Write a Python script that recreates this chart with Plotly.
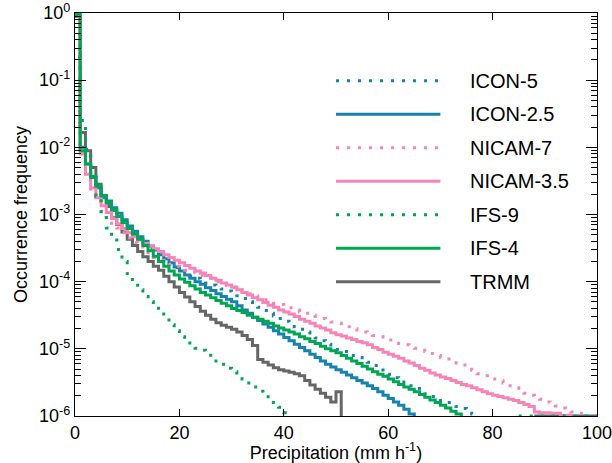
import plotly.graph_objects as go

# Precipitation bins: left edges, 1 mm/h wide
bin_width = 1

# Occurrence frequency, stored as log10 values
# (None = no data drawn; -7 = drops below the plotted range)
icon5_log10 = [
    -0.05, -2.0, -2.28, -2.48, -2.63, -2.75, -2.84, -2.94, -3.03, -3.12,
    -3.21, -3.29, -3.37, -3.44, -3.51, -3.57, -3.63, -3.69, -3.74, -3.79,
    -3.84, -3.88, -3.92, -3.95, -3.98, -4.02, -4.05, -4.08, -4.11, -4.14,
    -4.17, -4.21, -4.25, -4.3, -4.34, -4.38, -4.43, -4.47, -4.51, -4.55,
    -4.59, -4.63, -4.67, -4.71, -4.75, -4.8, -4.84, -4.88, -4.93, -4.97,
    -5.01, -5.04, -5.07, -5.1, -5.13, -5.16, -5.2, -5.25, -5.29, -5.34,
    -5.38, -5.43, -5.47, -5.51, -5.55, -5.59, -5.63, -5.67, -5.71, -5.74,
    -5.77, -5.8, -5.83, -5.86, -5.89, -5.93, -5.97, -7]

icon25_log10 = [
    -0.05, -2.0, -2.25, -2.45, -2.6, -2.72, -2.8, -2.9, -2.98, -3.08,
    -3.17, -3.25, -3.33, -3.4, -3.47, -3.53, -3.6, -3.66, -3.72, -3.78,
    -3.84, -3.9, -3.95, -4.0, -4.04, -4.09, -4.13, -4.18, -4.22, -4.26,
    -4.3, -4.36, -4.42, -4.47, -4.53, -4.58, -4.63, -4.68, -4.73, -4.78,
    -4.83, -4.88, -4.93, -4.98, -5.03, -5.08, -5.13, -5.18, -5.23, -5.27,
    -5.31, -5.35, -5.39, -5.43, -5.47, -5.51, -5.55, -5.59, -5.64, -5.69,
    -5.74, -5.79, -5.84, -5.9, -5.97, -7]

nicam7_log10 = [
    -0.05, -2.07, -2.45, -2.62, -2.8, -2.95, -3.05, -3.13, -3.2, -3.27,
    -3.35, -3.42, -3.48, -3.54, -3.6, -3.64, -3.68, -3.71, -3.74, -3.77,
    -3.8, -3.83, -3.86, -3.89, -3.91, -3.94, -3.97, -4.0, -4.03, -4.06,
    -4.09, -4.12, -4.15, -4.18, -4.21, -4.24, -4.27, -4.29, -4.32, -4.34,
    -4.37, -4.39, -4.42, -4.45, -4.47, -4.5, -4.52, -4.55, -4.57, -4.6,
    -4.62, -4.65, -4.67, -4.7, -4.72, -4.75, -4.77, -4.8, -4.82, -4.85,
    -4.87, -4.89, -4.92, -4.94, -4.97, -4.99, -5.02, -5.04, -5.07, -5.1,
    -5.13, -5.15, -5.18, -5.21, -5.24, -5.28, -5.32, -5.37, -5.4, -5.43,
    -5.45, -5.47, -5.51, -5.55, -5.58, -5.62, -5.66, -5.69, -5.72, -5.75,
    -5.79, -5.82, -5.85, -5.88, -5.91, -5.94, -5.96, -5.99, -7]

nicam35_log10 = [
    -0.05, -2.1, -2.4, -2.6, -2.75, -2.87, -2.97, -3.06, -3.14, -3.21,
    -3.27, -3.33, -3.38, -3.43, -3.47, -3.51, -3.55, -3.6, -3.64, -3.68,
    -3.72, -3.76, -3.8, -3.84, -3.87, -3.91, -3.95, -3.98, -4.02, -4.05,
    -4.08, -4.12, -4.16, -4.2, -4.24, -4.27, -4.31, -4.35, -4.38, -4.42,
    -4.45, -4.48, -4.52, -4.56, -4.59, -4.62, -4.66, -4.69, -4.72, -4.76,
    -4.79, -4.81, -4.84, -4.86, -4.89, -4.91, -4.94, -4.98, -5.01, -5.05,
    -5.08, -5.11, -5.14, -5.18, -5.21, -5.25, -5.29, -5.32, -5.36, -5.39,
    -5.42, -5.44, -5.47, -5.5, -5.53, -5.55, -5.58, -5.61, -5.64, -5.67,
    -5.69, -5.71, -5.73, -5.75, -5.77, -5.8, -5.83, -5.86, -5.94, -5.95,
    -5.95, -5.96, -5.96, -5.99, -5.99, -7]

ifs9_log10 = [
    -0.05, -1.6, -2.03, -2.45, -2.73, -3.0, -3.2, -3.35, -3.52, -3.7,
    -3.88, -4.0, -4.12, -4.22, -4.3, -4.37, -4.44, -4.54, -4.64, -4.73,
    -4.82, -4.89, -4.95, -4.99, -5.02, -5.07, -5.12, -5.18, -5.23, -5.29,
    -5.34, -5.39, -5.45, -5.51, -5.57, -5.63, -5.69, -5.75, -5.8, -5.87,
    -5.95, -7] + [None] * 43 + [-6.0] * 15

ifs4_log10 = [
    -0.01, -2.05, -2.25, -2.43, -2.58, -2.72, -2.82, -2.93, -3.03, -3.12,
    -3.21, -3.29, -3.37, -3.46, -3.54, -3.62, -3.7, -3.77, -3.84, -3.9,
    -3.96, -4.01, -4.06, -4.11, -4.16, -4.2, -4.24, -4.28, -4.32, -4.36,
    -4.4, -4.43, -4.46, -4.5, -4.53, -4.56, -4.59, -4.62, -4.66, -4.69,
    -4.72, -4.75, -4.78, -4.82, -4.85, -4.89, -4.92, -4.96, -5.0, -5.03,
    -5.06, -5.1, -5.14, -5.18, -5.22, -5.26, -5.3, -5.34, -5.38, -5.41,
    -5.45, -5.49, -5.53, -5.57, -5.6, -5.64, -5.68, -5.72, -5.76, -5.8,
    -5.84, -5.88, -5.93, -5.97, -7]

trmm_log10 = [
    -0.05, -1.78, -2.05, -2.3, -2.55, -2.73, -2.88, -3.05, -3.15, -3.26,
    -3.37, -3.46, -3.55, -3.63, -3.7, -3.77, -3.83, -3.92, -4.0, -4.08,
    -4.16, -4.23, -4.3, -4.37, -4.44, -4.5, -4.56, -4.61, -4.65, -4.68,
    -4.71, -4.75, -4.8, -4.86, -4.95, -5.16, -5.2, -5.24, -5.28, -5.31,
    -5.33, -5.35, -5.37, -5.4, -5.47, -5.54, -5.6, -5.66, -5.72, -5.79,
    -5.64, -7] + [None] * 36 + [-6.0] * 12

series_names = ["ICON-5", "ICON-2.5", "NICAM-7", "NICAM-3.5", "IFS-9", "IFS-4", "TRMM"]
series_data = [icon5_log10, icon25_log10, nicam7_log10, nicam35_log10,
               ifs9_log10, ifs4_log10, trmm_log10]
series_colors = ["#1683ad", "#1683ad", "#f784b6", "#f784b6", "#00a651", "#00a651", "#666666"]
dotted = "3px,8px"
series_dash = [dotted, "solid", dotted, "solid", dotted, "solid", "solid"]
draw_order = [6, 0, 1, 2, 3, 4, 5]

y_tick_exponents = [-6, -5, -4, -3, -2, -1, 0]
x_tick_values = [0, 20, 40, 60, 80, 100]


def step_xy(logs):
    xs, ys = [], []
    for i, v in enumerate(logs):
        xs.append(i * bin_width)
        ys.append(None if v is None else 10 ** v)
    xs.append(len(logs) * bin_width)
    ys.append(ys[-1])
    return xs, ys


fig = go.Figure()
for k in draw_order:
    xs, ys = step_xy(series_data[k])
    fig.add_trace(go.Scatter(
        x=xs, y=ys, mode="lines", name=series_names[k],
        line=dict(color=series_colors[k], width=3, dash=series_dash[k], shape="hv"),
        connectgaps=False, showlegend=False))

# legend drawn manually (long line samples like the original)
leg_x0, leg_x1, leg_text_x = 0.50, 0.70, 0.752
leg_top, leg_step = 0.832, 0.0831
for i, name in enumerate(series_names):
    yy = leg_top - i * leg_step
    fig.add_shape(type="line", xref="paper", yref="paper",
                  x0=leg_x0, x1=leg_x1, y0=yy, y1=yy,
                  line=dict(color=series_colors[i], width=3, dash=series_dash[i]))
    fig.add_annotation(xref="paper", yref="paper", x=leg_text_x, y=yy,
                       text=name, showarrow=False, xanchor="left", yanchor="middle",
                       font=dict(size=20, color="black"))

fig.update_layout(
    width=612, height=463,
    margin=dict(l=75, r=15, t=13, b=47),
    plot_bgcolor="white", paper_bgcolor="white",
    font=dict(family="Liberation Sans, Arial, Helvetica, sans-serif", size=18, color="black"),
    showlegend=False,
)
fig.update_xaxes(
    range=[0, 100], tickmode="array", tickvals=x_tick_values,
    ticks="inside", ticklen=7, tickwidth=1.2, tickcolor="black",
    showline=True, linecolor="black", linewidth=1.3, mirror="ticks",
    showgrid=False, zeroline=False, automargin=False,
    ticklabeloverflow="allow",
    tickfont=dict(size=18),
    title=dict(text="Precipitation (mm h<sup>-1</sup>)", font=dict(size=18), standoff=2),
)
fig.update_yaxes(
    type="log", range=[-6, 0], tickmode="array",
    tickvals=[10 ** e for e in y_tick_exponents],
    ticktext=["10<sup>%d</sup>" % e for e in y_tick_exponents],
    ticks="inside", ticklen=11, tickwidth=1.2, tickcolor="black",
    minor=dict(tickvals=[m * 10 ** e for e in y_tick_exponents[:-1] for m in range(2, 10)],
               ticks="inside", ticklen=6, tickwidth=1, tickcolor="black", showgrid=False),
    showline=True, linecolor="black", linewidth=1.3, mirror="ticks",
    showgrid=False, zeroline=False, automargin=False,
    ticklabeloverflow="allow",
    tickfont=dict(size=18),
    title=dict(text="Occurrence frequency", font=dict(size=18), standoff=6),
)

fig.write_html("out.html")
